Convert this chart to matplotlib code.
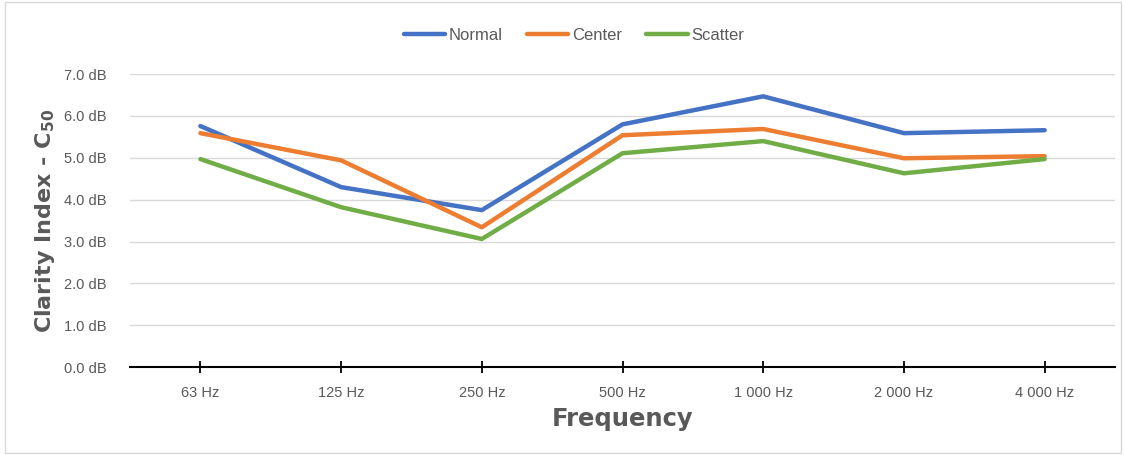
import matplotlib
matplotlib.use("Agg")
import matplotlib.pyplot as plt
from matplotlib.patches import Rectangle

FREQS = ["63 Hz", "125 Hz", "250 Hz", "500 Hz", "1 000 Hz", "2 000 Hz", "4 000 Hz"]
NORMAL = [5.76, 4.30, 3.75, 5.80, 6.47, 5.59, 5.66]
CENTER = [5.59, 4.94, 3.34, 5.54, 5.69, 4.99, 5.04]
SCATTER = [4.97, 3.82, 3.06, 5.11, 5.40, 4.63, 4.97]
YTICKS = [0, 1, 2, 3, 4, 5, 6, 7]

GREY = "#595959"

fig = plt.figure(figsize=(11.25, 4.55), dpi=100)
fig.patch.set_facecolor("white")
fig.patches.append(Rectangle((0.004, 0.004), 0.992, 0.992, transform=fig.transFigure,
                             fill=False, edgecolor="#d9d9d9", linewidth=1))

ax = fig.add_axes([0.1156, 0.1934, 0.8755, 0.6436])
x = list(range(len(FREQS)))
ax.plot(x, NORMAL, color="#4472c4", lw=3.2, label="Normal", solid_capstyle="round")
ax.plot(x, CENTER, color="#ed7d31", lw=3.2, label="Center", solid_capstyle="round")
ax.plot(x, SCATTER, color="#70ad47", lw=3.2, label="Scatter", solid_capstyle="round")

ax.set_xlim(-0.5, len(FREQS) - 0.5)
ax.set_ylim(0, 7)
ax.set_yticks(YTICKS)
ax.set_yticklabels([f"{v:.1f} dB" for v in YTICKS], color=GREY, fontsize=10.5,
                   family="Liberation Sans")
ax.set_xticks(x)
ax.set_xticklabels(FREQS, color=GREY, fontsize=10.5, family="Liberation Sans")
ax.grid(axis="y", color="#d9d9d9", lw=1)
ax.set_axisbelow(True)
for s in ["top", "right", "left"]:
    ax.spines[s].set_visible(False)
ax.spines["bottom"].set_color("black")
ax.spines["bottom"].set_linewidth(1.5)
ax.spines["bottom"].set_zorder(3)
ax.tick_params(axis="y", length=0, pad=17)
ax.tick_params(axis="x", direction="inout", length=9, width=1.3, color="black", pad=9)

ax.set_xlabel("Frequency", fontsize=17.5, fontweight="bold", color=GREY, labelpad=5)
ax.set_ylabel(r"Clarity Index - C$\mathregular{_{50}}$", fontsize=16, fontweight="bold",
              color=GREY, labelpad=5)

handles, labels = ax.get_legend_handles_labels()
leg = fig.legend(handles, labels, loc="center", bbox_to_anchor=(0.51, 0.923), ncol=3,
                 frameon=False, handlelength=2.5, handletextpad=0.2, columnspacing=1.45,
                 prop={"family": "Liberation Sans", "size": 12})
for t in leg.get_texts():
    t.set_color(GREY)

fig.savefig("out.png", dpi=100, facecolor="white")
